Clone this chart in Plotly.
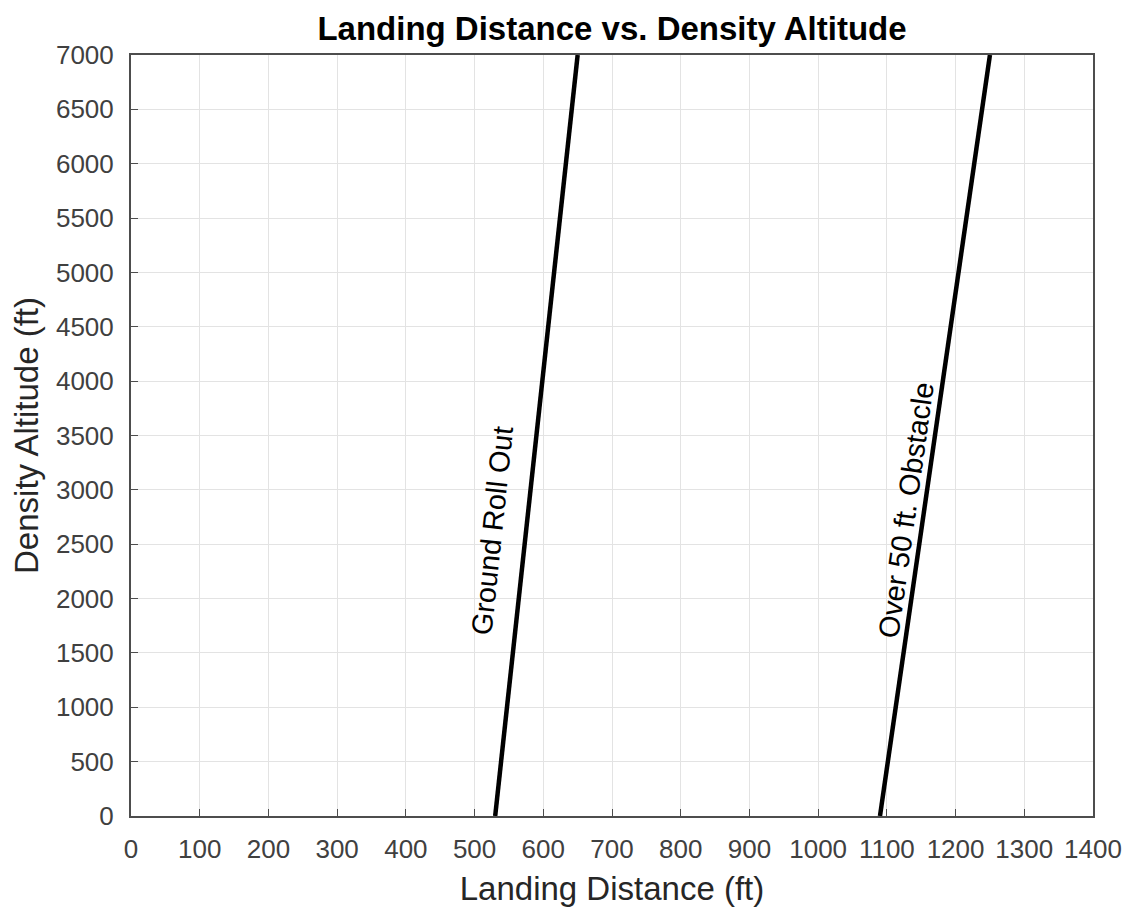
import plotly.graph_objects as go

# Data
density_altitude = [0, 7000]
ground_roll = [530, 650]
over_50ft = [1090, 1250]
x_ticks = list(range(0, 1401, 100))
y_ticks = list(range(0, 7001, 500))

FONT = "Arial, Liberation Sans, Helvetica"

fig = go.Figure()
fig.add_trace(go.Scatter(x=ground_roll, y=density_altitude, mode="lines",
                         line=dict(color="black", width=4.5), showlegend=False))
fig.add_trace(go.Scatter(x=over_50ft, y=density_altitude, mode="lines",
                         line=dict(color="black", width=4.5), showlegend=False))

fig.add_annotation(x=526, y=2630, text="Ground Roll Out", textangle=-84,
                   showarrow=False, font=dict(family=FONT, size=29, color="black"))
fig.add_annotation(x=1128, y=2815, text="Over 50 ft. Obstacle", textangle=-82,
                   showarrow=False, font=dict(family=FONT, size=29, color="black"))

axis_common = dict(showgrid=True, gridcolor="#e3e3e3", gridwidth=1,
                   showline=True, linecolor="#4d4d4d", linewidth=2, mirror=True,
                   ticks="inside", ticklen=7, tickcolor="#4d4d4d",
                   tickfont=dict(family=FONT, size=26, color="#404040"),
                   zeroline=False)

fig.update_layout(
    width=1134, height=917,
    paper_bgcolor="white", plot_bgcolor="white",
    margin=dict(l=123, r=49, t=47, b=109),
    title=dict(text="<b>Landing Distance vs. Density Altitude</b>", x=0.5, xref="paper",
               xanchor="center", y=0.978, yanchor="middle",
               font=dict(family=FONT, size=33, color="black")),
    xaxis=dict(range=[0, 1400], tickvals=x_ticks, ticktext=[str(v) for v in x_ticks],
               ticklabelstandoff=9,
               title=dict(text="Landing Distance (ft)", standoff=14,
                          font=dict(family=FONT, size=33, color="#262626")),
               **axis_common),
    yaxis=dict(range=[0, 7000], tickvals=y_ticks, ticktext=[str(v) for v in y_ticks],
               ticklabelstandoff=10,
               title=dict(text="Density Altitude (ft)", standoff=8,
                          font=dict(family=FONT, size=33, color="#262626")),
               **axis_common),
)

fig.write_html("out.html")
